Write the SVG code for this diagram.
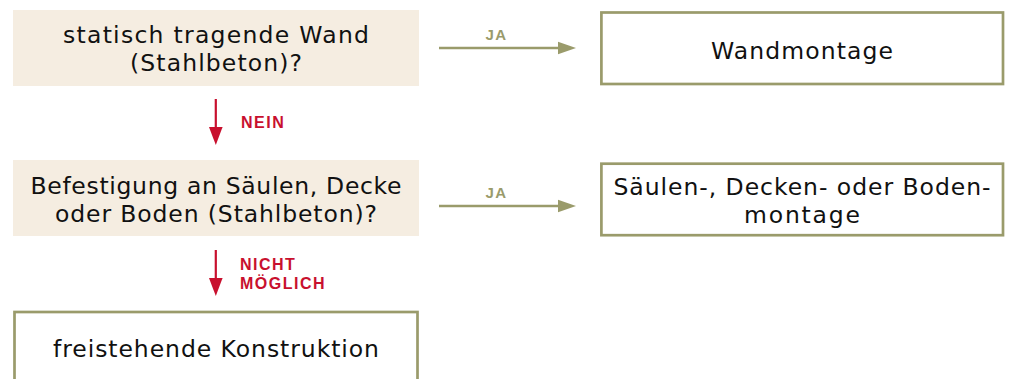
<svg xmlns="http://www.w3.org/2000/svg" width="1009" height="379" viewBox="0 0 1009 379">
  <style>
    .q { fill: #f5ede1; }
    .r { fill: #ffffff; stroke: #9a9b6b; stroke-width: 2.7; }
    .t { font-family: "DejaVu Sans", "Liberation Sans", sans-serif; font-size: 23.5px; fill: #111111; text-anchor: middle; }
    .ja { font-family: "Liberation Sans", Arial, sans-serif; font-weight: bold; font-size: 15px; letter-spacing: 1.5px; fill: #9a9b6b; }
    .no { font-family: "Liberation Sans", Arial, sans-serif; font-weight: bold; font-size: 16px; letter-spacing: 1.5px; fill: #c8102e; }
    .lg { stroke: #9a9b6b; stroke-width: 2.7; fill: none; }
    .lr { stroke: #c8102e; stroke-width: 2.2; fill: none; }
    .hg { fill: #9a9b6b; }
    .hr { fill: #c8102e; }
  </style>

  <g id="q1">
    <rect class="q" x="13" y="10" width="406" height="76"/>
    <text class="t" x="216" y="43" textLength="306">statisch tragende Wand</text>
    <text class="t" x="216" y="71" textLength="172">(Stahlbeton)?</text>
  </g>

  <g id="wandmontage">
    <rect class="r" x="601.4" y="12.5" width="401.6" height="71.5"/>
    <text class="t" x="802" y="59" textLength="182">Wandmontage</text>
  </g>

  <g id="q2">
    <rect class="q" x="13" y="160" width="406" height="76"/>
    <text class="t" x="216" y="193.5" textLength="371">Befestigung an Säulen, Decke</text>
    <text class="t" x="216" y="221.5" textLength="322">oder Boden (Stahlbeton)?</text>
  </g>

  <g id="saeulenmontage">
    <rect class="r" x="601.4" y="163.7" width="401.6" height="71.5"/>
    <text class="t" x="802" y="195" textLength="377">Säulen-, Decken- oder Boden-</text>
    <text class="t" x="802" y="223" textLength="116">montage</text>
  </g>

  <g id="freistehend">
    <rect class="r" x="14.5" y="312" width="403" height="80"/>
    <text class="t" x="216" y="356.5" textLength="326">freistehende Konstruktion</text>
  </g>

  <g id="connectors">
    <line class="lg" x1="439" y1="48" x2="559" y2="48"/>
    <polygon class="hg" points="558,41.7 576,48 558,54.3"/>
    <text class="ja" x="485.5" y="40">JA</text>

    <line class="lg" x1="439" y1="206" x2="559" y2="206"/>
    <polygon class="hg" points="558,199.7 576,206 558,212.3"/>
    <text class="ja" x="485.5" y="198">JA</text>

    <line class="lr" x1="215.8" y1="99" x2="215.8" y2="128"/>
    <polygon class="hr" points="209,127 222.6,127 215.8,145"/>
    <text class="no" x="241" y="128">NEIN</text>

    <line class="lr" x1="215.8" y1="250" x2="215.8" y2="279"/>
    <polygon class="hr" points="209,278 222.6,278 215.8,296"/>
    <text class="no" x="240" y="270">NICHT</text>
    <text class="no" x="240" y="289.3">MÖGLICH</text>
  </g>
</svg>
